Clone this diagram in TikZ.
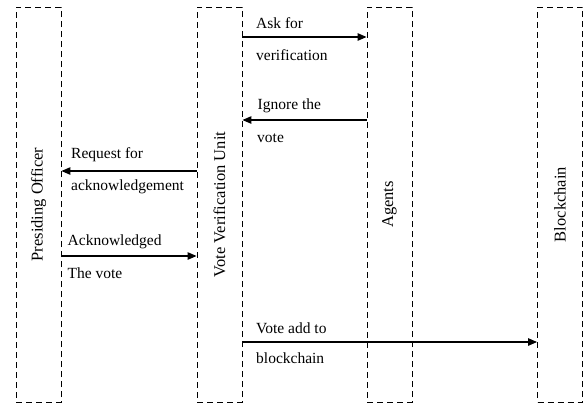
\documentclass[tikz,border=0pt]{standalone}
\usepackage{fontspec}
\setmainfont{Liberation Serif}
\usetikzlibrary{arrows.meta}
\begin{document}
\begin{tikzpicture}[x=1pt,y=-1pt,
  lifeline/.style={draw, line width=0.9pt, dash pattern=on 6pt off 4pt,
    minimum width=45pt, minimum height=395pt, inner sep=0pt,
    font=\fontsize{16.5}{19}\selectfont},
  msg/.style={line width=1.2pt, -{Triangle[length=9pt,width=7.5pt]}},
  msgtext/.style={anchor=base west, inner sep=0pt,
    font=\fontsize{15.5}{18}\selectfont}]
  \useasboundingbox (0,0) rectangle (585,405);

  % lifeline boxes
  \node[lifeline] (po)  at (38.5,204.5) {\rotatebox{90}{Presiding Officer}};
  \node[lifeline] (vvu) at (219.5,204.5) {\rotatebox{90}{Vote Verification Unit}};
  \node[lifeline] (ag)  at (389.5,204.5) {\rotatebox{90}{Agents}};
  \node[lifeline] (bc)  at (560,204.5) {\rotatebox{90}{Blockchain}};

  % messages
  \draw[msg] (vvu.east |- 0,37)  -- (ag.west |- 0,37);
  \draw[msg] (ag.west |- 0,120)  -- (vvu.east |- 0,120);
  \draw[msg] (vvu.west |- 0,171) -- (po.east |- 0,171);
  \draw[msg] (po.east |- 0,256)  -- (vvu.west |- 0,256);
  \draw[msg] (vvu.east |- 0,342) -- (bc.west |- 0,342);

  % message labels
  \node[msgtext] (t1a) at (256,28.5)  {Ask for};
  \node[msgtext] (t1b) at (256,60.5)  {verification};
  \node[msgtext] (t2a) at (257.5,109) {Ignore the};
  \node[msgtext] (t2b) at (257,142)   {vote};
  \node[msgtext] (t3a) at (71,158.5)  {Request for};
  \node[msgtext] (t3b) at (71,190.5)  {acknowledgement};
  \node[msgtext] (t4a) at (67.5,245.5) {Acknowledged};
  \node[msgtext] (t4b) at (67.5,278.5) {The vote};
  \node[msgtext] (t5a) at (256,333.5) {Vote add to};
  \node[msgtext] (t5b) at (256,363.5) {blockchain};
\end{tikzpicture}
\end{document}
